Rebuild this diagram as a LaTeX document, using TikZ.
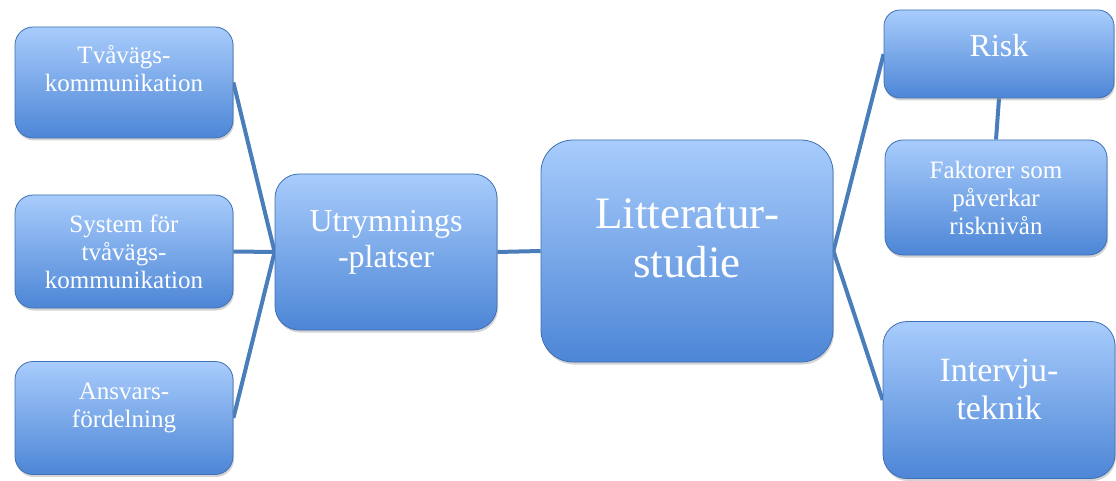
\documentclass[tikz,border=0pt]{standalone}
\usepackage{fontspec}
\setmainfont{Liberation Serif}
\usetikzlibrary{positioning, shadows, backgrounds}
\pgfdeclarelayer{lines}
\pgfsetlayers{background,lines,main}

\definecolor{boxtop}{HTML}{A8CCFC}
\definecolor{boxbottom}{HTML}{4D86D6}
\definecolor{boxedge}{HTML}{3F6FB5}
\definecolor{linkblue}{HTML}{4A7EBB}

% extra empty row under the text, pushes it up in its box
\newcommand\liftby[1]{\\[#1]\rule{0pt}{0pt}}

\begin{document}
\begin{tikzpicture}[
  x=1pt, y=-1pt,
  topic/.style={rectangle, draw=boxedge, line width=0.8pt, top color=boxtop, bottom color=boxbottom,
    text=white, align=center, inner sep=0pt,
    drop shadow={opacity=0.35, shadow xshift=1pt, shadow yshift=-2.5pt}},
  small/.style={topic, font=\fontsize{25}{28}\selectfont, rounded corners=18pt},
  mid/.style={topic, font=\fontsize{32}{36}\selectfont, rounded corners=24pt},
  big/.style={topic, font=\fontsize{45}{49}\selectfont, rounded corners=32pt},
  link/.style={draw=linkblue, line width=4pt}
]
\useasboundingbox (0,0) rectangle (1116,481);

% left column
\node[small, minimum width=218pt, minimum height=111pt] (tvavags) at (124,82.5) {Tvåvägs-\\kommunikation\liftby{0pt}};
\node[small, minimum width=218pt, minimum height=113pt] (system)  at (124,251.5) {System för\\tvåvägs-\\kommunikation};
\node[small, minimum width=218pt, minimum height=113pt] (ansvar)  at (124,418) {Ansvars-\\fördelning\liftby{-2.5pt}};

% centre
\node[mid, minimum width=222pt, minimum height=156pt] (utrymning) at (386,252) {Utrymnings\\-platser\liftby{-9pt}};
\node[big, minimum width=292pt, minimum height=222pt] (litteratur) at (687,251) {Litteratur-\\studie\liftby{-23pt}};

% right column
\node[mid, minimum width=230pt, minimum height=88pt, rounded corners=16pt] (risk) at (999,54) {Risk\liftby{-18pt}};
\node[small, minimum width=222pt, minimum height=115pt] (faktorer) at (996,197.5) {Faktorer som\\påverkar\\risknivån};
\node[mid, minimum width=232pt, minimum height=157pt, font=\fontsize{34}{38}\selectfont] (intervju) at (999,400) {Intervju-\\teknik\liftby{-16pt}};

% connectors
\begin{pgfonlayer}{lines}
  \draw[link] (tvavags.east) -- (utrymning.west);
  \draw[link] (system.east) -- (utrymning.west);
  \draw[link] (ansvar.east) -- (utrymning.west);
  \draw[link] (utrymning.east) -- (litteratur.west);
  \draw[link] (litteratur.east) -- (risk.west);
  \draw[link] (litteratur.east) -- (intervju.west);
  \draw[link] (risk.south) -- (faktorer.north);
\end{pgfonlayer}

\end{tikzpicture}
\end{document}
